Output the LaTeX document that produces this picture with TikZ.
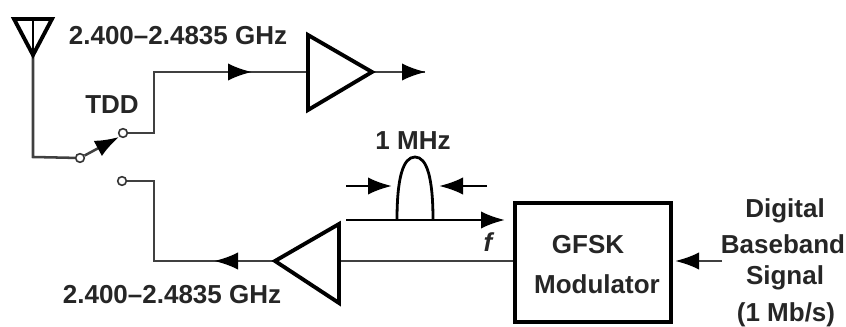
\documentclass[tikz,border=0pt]{standalone}
\usepackage{fontspec}
\setmainfont{Liberation Sans}
\usetikzlibrary{arrows.meta}
\tikzset{
 wire/.style={line width=1.9pt,draw=black!75},
 thick box/.style={line width=2.9pt,line join=miter},
 lbl/.style={font=\fontsize{19.5}{22}\selectfont\bfseries,inner sep=0pt,text=black!85},
 port/.style={circle,draw=black!80,line width=1.2pt,fill=white,minimum size=6.5pt,inner sep=0pt},
 head/.style={-{Latex[length=18pt,width=13pt,color=black]}},
}
\begin{document}
\begin{tikzpicture}[x=0.75pt,y=-0.75pt]
\useasboundingbox (0,0) rectangle (846,327);
% coordinates
\coordinate (antTip) at (33,55);
\coordinate (antBar) at (33,21);
\coordinate (c1) at (33,157);
\coordinate (c2) at (154,133);
\coordinate (c3) at (154,72);
\coordinate (c4) at (154,181);
\coordinate (c5) at (154,261);
\coordinate (rxOut) at (425,72);
\coordinate (inStart) at (722,261);
\coordinate (fL) at (346,220);
\coordinate (fR) at (505,220);
\coordinate (bL) at (397,220);
\coordinate (bR) at (433,220);
\coordinate (aL1) at (346,186);
\coordinate (aL2) at (392,186);
\coordinate (aR1) at (487,186);
\coordinate (aR2) at (439,186);
\node[port] (pc) at (80,158) {};
\node[port] (pt) at (123,133) {};
\node[port] (pb) at (122,181) {};
% amplifiers
\coordinate (la) at (308,72);
\coordinate (lo) at (372,72);
\coordinate (pa) at (339,261);
\coordinate (po) at (275,261);
% wires
\draw[wire] (antTip) -- (c1) -- (pc);
\draw[wire] (pt) -- (c2) -- (c3) -- (la);
\draw[wire] (pb) -- (c4) -- (c5) -- (po);
\draw[wire] (pa) -- (515,261);
\draw[wire] (lo) -- (rxOut);
% arrowheads
\draw[wire,head] (c3) -- (252,72);
\draw[wire,head] (lo) -- (426,72);
\draw[wire,head] (po) -- (214,261);
\draw[wire,head] (inStart) -- (675,261);
\draw[wire,head] (pc) -- (119,137);
% antenna
\draw[thick box] (14,19) -- (52,19) -- (antTip) -- cycle;
\draw[wire,draw=black] (antBar) -- (antTip);
% amps
\draw[thick box] (308,35) -- (308,110) -- (lo) -- cycle;
\draw[thick box] (339,224) -- (339,303) -- (po) -- cycle;
% modulator
\node[draw,thick box,minimum width=117pt,minimum height=89.5pt,inner sep=0pt] (mod) at (593,262.5) {};
\node[lbl] (g) at (588,245) {GFSK};
\node[lbl] (m) at (597,284) {Modulator};
% spectrum
\draw[wire,draw=black,head] (fL) -- (fR);
\draw[line width=2.1pt] (bL) .. controls (397,178) and (403,157) .. (415,157) .. controls (427,157) and (433,178) .. (bR);
\draw[wire,draw=black,head] (aL1) -- (aL2);
\draw[wire,draw=black,head] (aR1) -- (aR2);
% labels
\node[lbl] (t1) at (178,36) {2.400–2.4835 GHz};
\node[lbl] (t2) at (172,295) {2.400–2.4835 GHz};
\node[lbl] (tdd) at (112,105) {TDD};
\node[lbl] (mhz) at (413,141) {1 MHz};
\node[lbl,font=\fontsize{19.5}{22}\selectfont\bfseries\itshape] (f) at (488,242) {f};
\node[lbl] (d1) at (785,211) {Digital};
\node[lbl] (d2) at (783,244) {Baseband};
\node[lbl] (d3) at (785,278) {Signal};
\node[lbl] (d4) at (786,315) {(1 Mb/s)};
\end{tikzpicture}
\end{document}
